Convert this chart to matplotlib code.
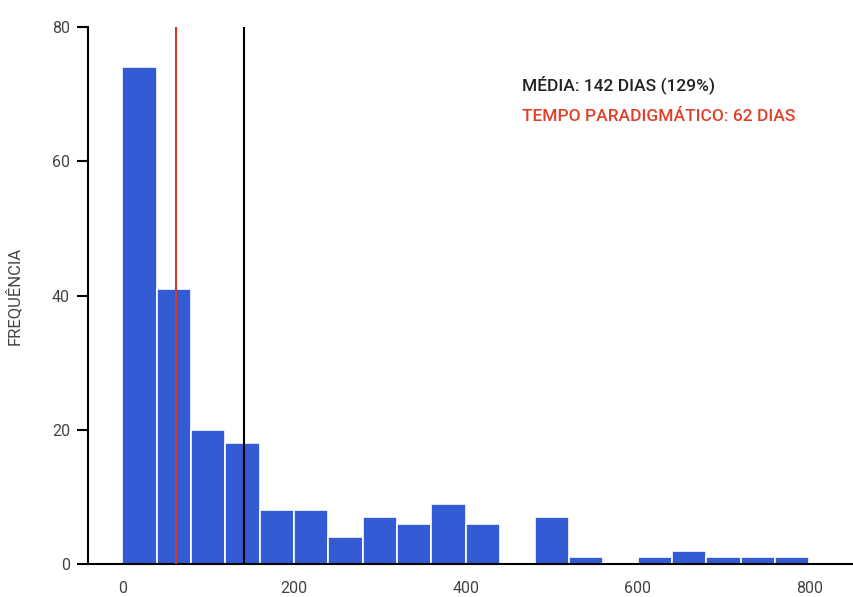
import matplotlib.pyplot as plt

# dados do histograma (bins de 40 dias)
bin_edges = [0, 40, 80, 120, 160, 200, 240, 280, 320, 360, 400,
             440, 480, 520, 560, 600, 640, 680, 720, 760, 800]
counts = [74, 41, 20, 18, 8, 8, 4, 7, 6, 9, 6,
          0, 7, 1, 0, 1, 2, 1, 1, 1]
media = 142
tempo_paradigmatico = 62
x_ticks = [0, 200, 400, 600, 800]
y_ticks = [0, 20, 40, 60, 80]

plt.rcParams['font.family'] = ['Roboto', 'DejaVu Sans']

fig = plt.figure(figsize=(8.54, 5.97), dpi=100)
ax = fig.add_axes([0.103, 0.055, 0.896, 0.9])

ax.bar(bin_edges[:-1], counts, width=40, align='edge',
       color='#325bd4', edgecolor='white', linewidth=1.2)

ax.axvline(tempo_paradigmatico, color='#d63a26', linewidth=1.5, zorder=3)
ax.axvline(media, color='black', linewidth=1.5, zorder=3)

ax.set_xlim(-40, 851)
ax.set_ylim(0, 80)
ax.set_xticks(x_ticks)
ax.set_yticks(y_ticks)

for s in ['top', 'right']:
    ax.spines[s].set_visible(False)
ax.spines['left'].set_linewidth(1.5)
ax.spines['bottom'].set_linewidth(1.5)

ax.tick_params(axis='x', length=0, pad=12, labelsize=11.5, labelcolor='#444444')
ax.tick_params(axis='y', length=8, width=1.5, pad=5, labelsize=11.5, labelcolor='#444444')

ax.set_ylabel('FREQUÊNCIA', fontsize=12, color='#444444')
ax.yaxis.set_label_coords(-0.086, 0.5)

ax.text(0.567, 0.892, 'MÉDIA: 142 DIAS (129%)', transform=ax.transAxes,
        fontsize=12.5, color='#222222', fontweight='medium', va='center')
ax.text(0.567, 0.833, 'TEMPO PARADIGMÁTICO: 62 DIAS', transform=ax.transAxes,
        fontsize=12.5, color='#e0402a', fontweight='medium', va='center')

fig.savefig('out.png', dpi=100)
